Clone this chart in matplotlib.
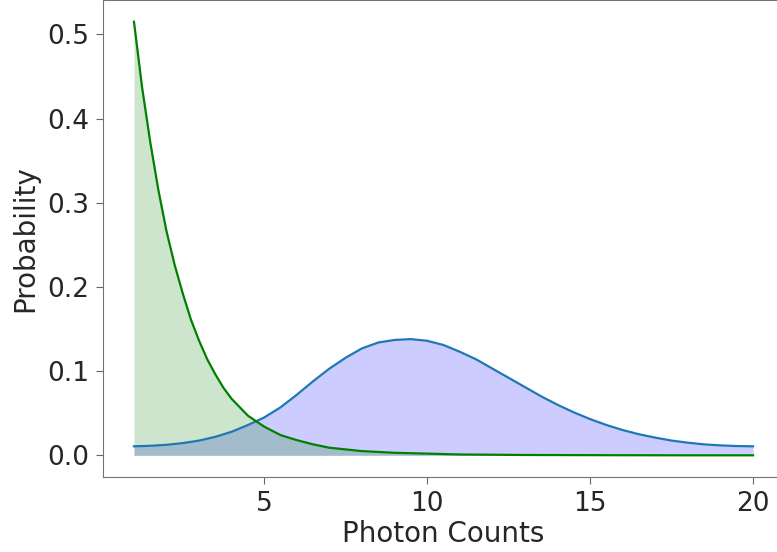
import matplotlib.pyplot as plt

# photon counts axis for the bright signal
counts = [1.0, 1.5, 2.0, 2.5, 3.0, 3.5, 4.0, 4.5, 5.0, 5.5,
          6.0, 6.5, 7.0, 7.5, 8.0, 8.5, 9.0, 9.5, 10.0, 10.5,
          11.0, 11.5, 12.0, 12.5, 13.0, 13.5, 14.0, 14.5, 15.0, 15.5,
          16.0, 16.5, 17.0, 17.5, 18.0, 18.5, 19.0, 19.5, 20.0]

# bright signal distribution (blue)
signal = [0.0107, 0.0113, 0.0125, 0.0145, 0.0175, 0.022, 0.028, 0.036, 0.045, 0.057,
          0.072, 0.088, 0.103, 0.116, 0.127, 0.134, 0.137, 0.138, 0.136, 0.131,
          0.123, 0.114, 0.103, 0.092, 0.081, 0.070, 0.060, 0.051, 0.043, 0.036,
          0.030, 0.025, 0.021, 0.0175, 0.015, 0.013, 0.0118, 0.011, 0.0107]

# background counts, finer near the steep start
bg_counts = [1.0, 1.25, 1.5, 1.75, 2.0, 2.25, 2.5, 2.75, 3.0, 3.25,
             3.5, 3.75, 4.0, 4.5, 5.0, 5.5, 6.0, 6.5, 7.0, 7.5,
             8.0, 9.0, 10.0, 11.0, 12.0, 13.0, 14.0, 16.0, 18.0, 20.0]

# dark / background distribution (green)
background = [0.515, 0.437, 0.372, 0.315, 0.266, 0.226, 0.192, 0.161, 0.136, 0.114,
              0.096, 0.080, 0.067, 0.047, 0.034, 0.024, 0.018, 0.013, 0.009, 0.007,
              0.005, 0.003, 0.002, 0.001, 0.0007, 0.0004, 0.0003, 0.0001, 0.0, 0.0]

fig = plt.figure(figsize=(7.77, 5.52), dpi=100)
ax = fig.add_axes([103 / 777, 75 / 552, 681 / 777, 477 / 552])

ax.fill_between(counts, signal, color='blue', alpha=0.2, linewidth=0)
ax.fill_between(bg_counts, background, color='green', alpha=0.2, linewidth=0)
ax.plot(counts, signal, color='#1f77b4', linewidth=1.6)
ax.plot(bg_counts, background, color='green', linewidth=1.6)

ax.set_xticks([5, 10, 15, 20])
ax.set_yticks([0.0, 0.1, 0.2, 0.3, 0.4, 0.5])
ax.tick_params(labelsize=19, length=5, pad=5, colors='0.4', labelcolor='0.15')
for s in ax.spines.values():
    s.set_color('0.45')
ax.set_xlabel('Photon Counts', fontsize=20, color='0.15', labelpad=2)
ax.set_ylabel('Probability', fontsize=20, color='0.15', labelpad=6)

fig.savefig('out.png', dpi=100)
